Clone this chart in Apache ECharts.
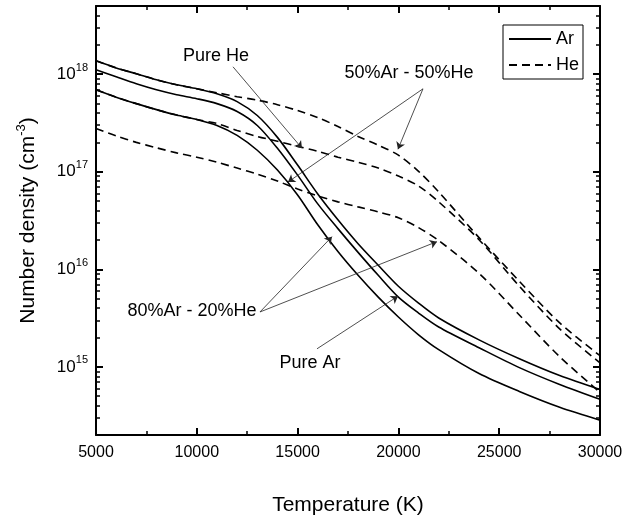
<!DOCTYPE html>
<html><head><meta charset="utf-8">
<script src="https://cdn.jsdelivr.net/npm/echarts@6/dist/echarts.min.js"></script>
<style>html,body{margin:0;padding:0;background:#fff}#c{width:637px;height:522px}</style>
</head><body><div id="c"></div>
<script>
// ---- data ----
const temperatures = [5000, 6000, 7000, 8000, 9000, 10000, 11000, 12000, 13000, 14000, 15000, 16000, 17000, 18000, 19000, 20000, 21000, 22000, 24000, 26000, 28000, 30000];
// Ar number density (solid lines): pure Ar, 80%Ar-20%He, 50%Ar-50%He
const arPure = [1.37e18, 1.16e18, 1.01e18, 8.75e17, 7.78e17, 7.09e17, 6.30e17, 5.23e17, 3.77e17, 2.25e17, 1.17e17, 5.92e16, 3.22e16, 1.83e16, 1.10e16, 6.70e15, 4.50e15, 3.17e15, 1.89e15, 1.21e15, 8.14e14, 5.86e14];
const ar80 = [1.11e18, 9.39e17, 7.97e17, 6.92e17, 6.16e17, 5.61e17, 4.99e17, 4.14e17, 2.98e17, 1.74e17, 9.23e16, 4.68e16, 2.61e16, 1.49e16, 8.67e15, 5.18e15, 3.56e15, 2.56e15, 1.57e15, 9.81e14, 6.59e14, 4.64e14];
const ar50 = [6.92e17, 5.81e17, 4.99e17, 4.33e17, 3.81e17, 3.43e17, 2.98e17, 2.36e17, 1.66e17, 1.04e17, 5.78e16, 2.86e16, 1.52e16, 8.67e15, 5.18e15, 3.24e15, 2.13e15, 1.50e15, 8.53e14, 5.59e14, 3.85e14, 2.84e14];
// He number density (dashed lines): pure He, 50%Ar-50%He, 80%Ar-20%He
const hePure = [1.37e18, 1.16e18, 1.01e18, 8.75e17, 7.78e17, 7.09e17, 6.45e17, 5.88e17, 5.42e17, 4.87e17, 4.24e17, 3.59e17, 2.91e17, 2.30e17, 1.87e17, 1.48e17, 1.01e17, 6.20e16, 2.11e16, 7.53e15, 2.82e15, 1.30e15];
const he50 = [6.92e17, 5.81e17, 4.99e17, 4.33e17, 3.81e17, 3.43e17, 3.12e17, 2.65e17, 2.30e17, 2.05e17, 1.82e17, 1.62e17, 1.41e17, 1.25e17, 1.09e17, 9.02e16, 7.14e16, 4.91e16, 2.01e16, 6.70e15, 2.45e15, 1.10e15];
const he20 = [2.78e17, 2.33e17, 2.00e17, 1.76e17, 1.56e17, 1.41e17, 1.25e17, 1.09e17, 9.45e16, 8.02e16, 6.65e16, 5.65e16, 4.91e16, 4.36e16, 3.88e16, 3.37e16, 2.67e16, 1.97e16, 9.08e15, 3.40e15, 1.27e15, 5.47e14];

const xMin = 5000, xMax = 30000, xInterval = 5000;
const yMin = 2e14, yMax = 5e18;
const minorMultipliers = [2, 3, 4, 5, 6, 7, 8, 9];
const legendNames = ['Ar', 'He'];

// annotations (data coordinates)
const labelTexts = ['Pure He', '50%Ar - 50%He', '80%Ar - 20%He', 'Pure Ar'];
const labelAnchors = [[10950, 1.53e18], [20525, 1.03e18], [9760, 3.73e15], [15610, 1.10e15]];
const arrowFrom = [[11795, 1.19e18], [21219, 7.08e17], [21219, 7.08e17], [13134, 3.65e15], [13134, 3.65e15], [15962, 1.53e15]];
const arrowTo = [[15218, 1.74e17], [19979, 1.70e17], [14523, 7.84e16], [16706, 2.16e16], [21914, 1.92e16], [19979, 5.30e15]];

// ---- build ----
const minorTickLogs = [];
for (let d = 14; d <= 18; d++) {
  for (const k of minorMultipliers) {
    const v = Math.log10(k) + d;
    if (v > Math.log10(yMin) + 1e-9 && v < Math.log10(yMax) - 1e-9) minorTickLogs.push(v);
  }
}

const FONT = '"Liberation Sans", Arial, sans-serif';
const axisLine = { show: true, onZero: false, lineStyle: { color: '#000', width: 2 } };
const majorTick = { show: true, inside: true, length: 7, lineStyle: { color: '#000', width: 2 } };
const minorTickStyle = { show: true, inside: true, length: 4, lineStyle: { color: '#000', width: 1.5 } };

function line(name, values, dashed, extra) {
  return Object.assign({
    type: 'line', name: name,
    data: temperatures.map((t, i) => [t, values[i]]),
    xAxisIndex: 0, yAxisIndex: 0,
    symbol: 'none', smooth: 0.3,
    lineStyle: { color: '#000', width: 1.6, type: dashed ? [8, 5] : 'solid' },
    itemStyle: { color: '#000' },
    silent: true, z: dashed ? 3 : 2
  }, extra || {});
}

function xAx(pos, showLabel) {
  return {
    type: 'value', position: pos, min: xMin, max: xMax, interval: xInterval,
    axisLine: axisLine, axisTick: majorTick,
    minorTick: { show: true, splitNumber: 2, length: 4, lineStyle: { color: '#000', width: 1.5 } },
    splitLine: { show: false }, minorSplitLine: { show: false },
    axisLabel: { show: showLabel, color: '#000', fontSize: 16, margin: 10, fontFamily: FONT, formatter: v => String(v) },
    name: showLabel ? 'Temperature (K)' : '', nameLocation: 'middle', nameGap: 60,
    nameTextStyle: { fontSize: 21, color: '#000', fontFamily: FONT }
  };
}

function yLogAx(pos, showLabel) {
  return {
    type: 'log', logBase: 10, position: pos, min: yMin, max: yMax,
    axisLine: axisLine, axisTick: majorTick, splitLine: { show: false },
    axisLabel: {
      show: showLabel, margin: 8, showMinLabel: false, showMaxLabel: false,
      formatter: function (v) {
        const e = Math.log10(v);
        if (Math.abs(e - Math.round(e)) > 1e-6) return '';
        return '{b|10}{s|' + Math.round(e) + '}';
      },
      rich: {
        b: { fontSize: 17, lineHeight: 24, color: '#000', fontFamily: FONT },
        s: { fontSize: 11, lineHeight: 11, verticalAlign: 'top', color: '#000', fontFamily: FONT }
      }
    },
    name: showLabel ? 'Number density (cm{s|-3})' : '', nameLocation: 'middle', nameRotate: 90, nameGap: 55,
    nameTextStyle: {
      fontSize: 21, lineHeight: 26, color: '#000', fontFamily: FONT,
      rich: { s: { fontSize: 13, lineHeight: 13, verticalAlign: 'top', color: '#000', fontFamily: FONT } }
    }
  };
}

function yMinorAx(pos) {
  return {
    type: 'value', position: pos, min: Math.log10(yMin), max: Math.log10(yMax),
    axisLine: { show: false }, splitLine: { show: false },
    axisTick: Object.assign({ customValues: minorTickLogs }, minorTickStyle),
    axisLabel: { show: false }
  };
}

const markLineData = arrowFrom.map((f, i) => [{ coord: f }, { coord: arrowTo[i] }]);
const markPointData = labelTexts.map((t, i) => ({ coord: labelAnchors[i], value: t }));

const option = {
  animation: false,
  backgroundColor: '#fff',
  textStyle: { fontFamily: FONT, color: '#000' },
  grid: { left: 96, right: 37, top: 6, bottom: 87, containLabel: false },
  legend: {
    data: legendNames, orient: 'vertical', left: 503, top: 25,
    itemWidth: 42, itemHeight: 14, itemGap: 8,
    itemStyle: { opacity: 0 },
    padding: [5, 4, 5, 5], borderColor: '#000', borderWidth: 1, borderRadius: 0,
    textStyle: { fontSize: 18, color: '#000', fontFamily: FONT },
    selectedMode: false
  },
  xAxis: [xAx('bottom', true), xAx('top', false)],
  yAxis: [yLogAx('left', true), yMinorAx('left'), yLogAx('right', false), yMinorAx('right')],
  series: [
    line('Ar', arPure, false, {
      markLine: {
        silent: true, symbol: ['none', 'arrow'], symbolSize: 7,
        lineStyle: { color: '#222', width: 0.8, type: 'solid' },
        label: { show: false }, emphasis: { disabled: true },
        data: markLineData
      },
      markPoint: {
        silent: true, symbol: 'circle', symbolSize: 1,
        itemStyle: { color: 'rgba(0,0,0,0)' },
        label: { show: true, position: 'inside', color: '#000', fontSize: 18, fontFamily: FONT, formatter: p => p.value },
        data: markPointData
      }
    }),
    line('Ar', ar80, false),
    line('Ar', ar50, false),
    line('He', hePure, true),
    line('He', he50, true),
    line('He', he20, true)
  ]
};

const chart = echarts.init(document.getElementById('c'), null, { renderer: 'canvas' });
chart.setOption(option);
</script>
</body></html>
